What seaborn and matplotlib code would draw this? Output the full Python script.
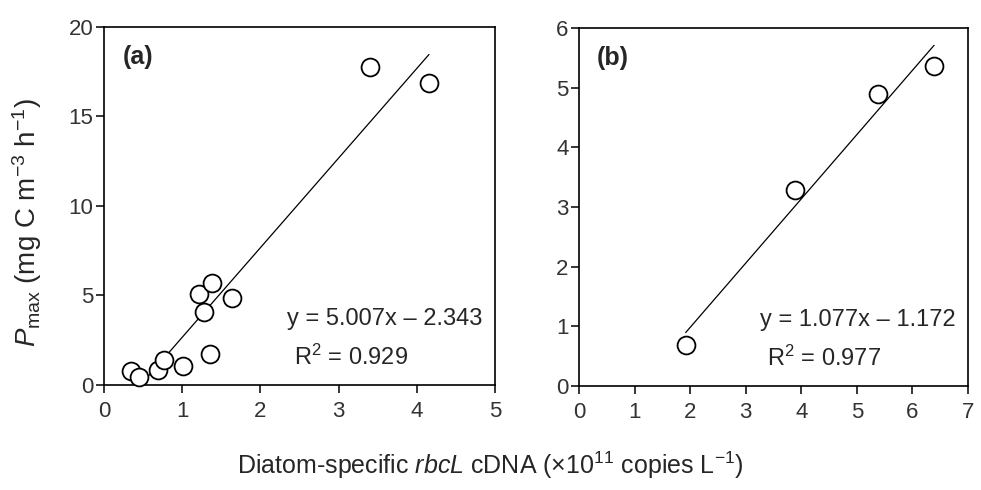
import numpy as np
import pandas as pd
import matplotlib
matplotlib.use("Agg")
import matplotlib.pyplot as plt
import seaborn as sns

# ---- data ----
a_x = [0.34, 0.45, 0.69, 0.77, 1.01, 1.215, 1.385, 1.28, 1.64, 1.36, 3.40, 4.156]
a_y = [0.78, 0.46, 0.84, 1.40, 1.06, 5.07, 5.70, 4.10, 4.88, 1.75, 17.75, 16.89]
a_slope, a_icpt, a_r2 = 5.007, -2.343, 0.929

b_x = [1.92, 3.89, 5.39, 6.39]
b_y = [0.69, 3.28, 4.89, 5.36]
b_slope, b_icpt, b_r2 = 1.077, -1.172, 0.977

a_xticks = [0, 1, 2, 3, 4, 5]
a_yticks = [0, 5, 10, 15, 20]
b_xticks = [0, 1, 2, 3, 4, 5, 6, 7]
b_yticks = [0, 1, 2, 3, 4, 5, 6]

sns.set_theme(style="ticks")
plt.rcParams['font.family'] = ['Liberation Sans', 'DejaVu Sans']
plt.rcParams['mathtext.fontset'] = 'custom'
plt.rcParams['mathtext.rm'] = 'Liberation Sans'
plt.rcParams['mathtext.it'] = 'Liberation Sans:italic'
plt.rcParams['mathtext.bf'] = 'Liberation Sans:bold'

fig = plt.figure(figsize=(9.81, 4.90), dpi=100)
ax_a = fig.add_axes([0.106, 0.2143, 0.3986, 0.7306])
ax_b = fig.add_axes([0.5902, 0.2122, 0.3965, 0.7306])


def panel(ax, xs, ys, slope, icpt, r2, xticks, yticks, tag, tagpos, eqpos, r2pos):
    df = pd.DataFrame({"x": xs, "y": ys})
    xl = np.array([min(xs), max(xs)])
    line = pd.DataFrame({"x": xl, "y": slope * xl + icpt})
    sns.lineplot(data=line, x="x", y="y", ax=ax, color="black", linewidth=0.9)
    sns.scatterplot(data=df, x="x", y="y", ax=ax, s=165, facecolor="white",
                    edgecolor="black", linewidth=1.3, zorder=3, clip_on=False)
    ax.set_xlim(xticks[0], xticks[-1])
    ax.set_ylim(yticks[0], yticks[-1])
    ax.set_xticks(xticks)
    ax.set_yticks(yticks)
    ax.set_xlabel("")
    ax.set_ylabel("")
    for s in ax.spines.values():
        s.set_visible(True)
        s.set_linewidth(1.2)
        s.set_color("black")
    ax.tick_params(direction="out", length=6, width=1.1,
                   labelsize=16, labelcolor="#333333", color="black")
    ax.tick_params(axis="x", pad=5.5)
    ax.tick_params(axis="y", pad=1.5)
    ax.text(tagpos[0], tagpos[1], tag, fontsize=18, fontweight="bold",
            va="center", ha="left")
    sign = "\u2013" if icpt < 0 else "+"
    ax.text(eqpos[0], eqpos[1], f"y = {slope:.3f}x {sign} {abs(icpt):.3f}",
            fontsize=17, va="center", ha="left")
    ax.text(r2pos[0], r2pos[1], f"R$^{{2}}$ = {r2:.3f}",
            fontsize=17, va="center", ha="left")


panel(ax_a, a_x, a_y, a_slope, a_icpt, a_r2, a_xticks, a_yticks,
      "(a)", (0.24, 18.3), (2.34, 3.69), (2.43, 1.56))
panel(ax_b, b_x, b_y, b_slope, b_icpt, b_r2, b_xticks, b_yticks,
      "(b)", (0.32, 5.49), (3.26, 1.10), (3.38, 0.47))

fig.text(0.028, 0.547, r"$P_{\mathrm{max}}$ (mg C m$^{-3}$ h$^{-1}$)",
         rotation=90, fontsize=20, ha="center", va="center")
fig.text(0.5, 0.051,
         "Diatom-specific $\\mathit{rbcL}$ cDNA (\u00d710$^{11}$ copies L$^{-1}$)",
         fontsize=18, ha="center", va="center")

fig.savefig("out.png", dpi=100, facecolor="white")
